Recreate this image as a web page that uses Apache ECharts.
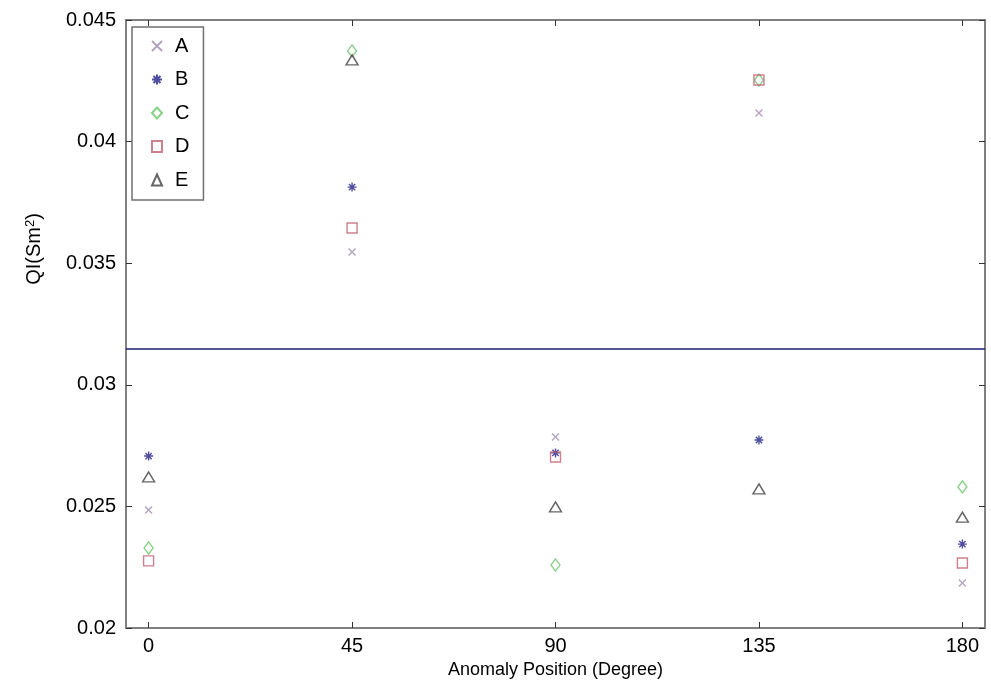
<!DOCTYPE html>
<html>
<head>
  <meta charset="utf-8">
  <title>QI vs Anomaly Position</title>
  <script src="https://cdn.jsdelivr.net/npm/echarts@6/dist/echarts.min.js"></script>
</head>
<body style="margin:0">
  <div id="main" style="width:991px;height:695px;"></div>
  <script type="text/javascript">
    // angles (degree)
    var positions = [0, 45, 90, 135, 180];
    var seriesNames = ['A', 'B', 'C', 'D', 'E'];
    var valuesA = [0.02485, 0.03546, 0.02785, 0.04118, 0.02185];
    var valuesB = [0.02707, 0.03813, 0.02720, 0.02773, 0.02345];
    var valuesC = [0.02329, 0.04373, 0.02259, 0.04253, 0.02580];
    var valuesD = [0.02276, 0.03645, 0.02703, 0.04253, 0.02267];
    var valuesE = [0.02621, 0.04336, 0.02498, 0.02572, 0.02456];
    var threshold = 0.0315;
    var yTicks = [0.02, 0.025, 0.03, 0.035, 0.04, 0.045];

    var myChart = echarts.init(document.getElementById('main'));

    function pts(vals) {
      return positions.map(function (p, i) { return [p, vals[i]]; });
    }

    var styles = [
      { symbol: 'path://M0,0L10,10M10,0L0,10', size: 7, color: '#a08cb0', fill: 'rgba(0,0,0,0)' },
      { symbol: 'path://M5,0L5,10M0,5L10,5M1.5,1.5L8.5,8.5M8.5,1.5L1.5,8.5', size: 9, color: '#22228a', fill: 'rgba(0,0,0,0)' },
      { symbol: 'diamond', size: [9, 12], color: '#6cc46c', fill: 'rgba(0,0,0,0)' },
      { symbol: 'rect', size: 10, color: '#c06070', fill: 'rgba(0,0,0,0)' },
      { symbol: 'triangle', size: [12, 10], color: '#404040', fill: 'rgba(0,0,0,0)' }
    ];
    var allValues = [valuesA, valuesB, valuesC, valuesD, valuesE];

    var series = seriesNames.map(function (n, i) {
      var s = styles[i];
      return {
        name: n,
        type: 'scatter',
        symbol: s.symbol,
        symbolSize: s.size,
        itemStyle: { color: s.fill, borderColor: s.color, borderWidth: 1.4 },
        data: pts(allValues[i])
      };
    });
    // horizontal reference line
    series.push({
      name: 'limit',
      type: 'line',
      data: [],
      markLine: {
        silent: true,
        symbol: 'none',
        precision: 5,
        label: { show: false },
        lineStyle: { color: '#1c1c78', width: 1.5, type: 'solid' },
        data: [{ yAxis: threshold }]
      }
    });

    var option = {
      animation: false,
      grid: { left: 126, top: 20, right: 6, bottom: 67 },
      legend: {
        data: seriesNames,
        orient: 'vertical',
        left: 132,
        top: 27,
        padding: [9, 14, 10, 19],
        itemGap: 13.5,
        itemWidth: 10,
        itemHeight: 11,
        borderColor: '#707070',
        borderWidth: 1.5,
        backgroundColor: '#fff',
        textStyle: { color: '#000', fontSize: 20, lineHeight: 20, padding: [0, 0, 0, 8], fontFamily: 'Liberation Sans, Arial' }
      },
      xAxis: [{
        type: 'value',
        min: -5,
        max: 185,
        name: 'Anomaly Position (Degree)',
        nameLocation: 'middle',
        nameGap: 30,
        nameTextStyle: { color: '#000', fontSize: 18, fontFamily: 'Liberation Sans, Arial' },
        axisLine: { onZero: false, lineStyle: { color: '#808080', width: 2 } },
        axisTick: { inside: true, length: 6, customValues: positions, lineStyle: { color: '#333' } },
        axisLabel: { fontSize: 20, color: '#000', fontFamily: 'Liberation Sans, Arial', customValues: positions },
        splitLine: { show: false }
      }, {
        type: 'value',
        position: 'top',
        min: -5,
        max: 185,
        axisLine: { onZero: false, lineStyle: { color: '#808080', width: 2 } },
        axisTick: { inside: true, length: 6, customValues: positions, lineStyle: { color: '#333' } },
        axisLabel: { show: false },
        splitLine: { show: false }
      }],
      yAxis: [{
        type: 'value',
        min: 0.02,
        max: 0.045,
        interval: 0.005,
        name: '{a|QI(Sm}{s|2}{a|)}',
        nameLocation: 'middle',
        nameGap: 82,
        nameTextStyle: {
          padding: [0, 0, 0, 150],
          rich: {
            a: { fontSize: 20, color: '#000', fontFamily: 'Liberation Sans, Arial' },
            s: { fontSize: 13, color: '#000', verticalAlign: 'top', fontFamily: 'Liberation Sans, Arial' }
          }
        },
        axisLine: { onZero: false, lineStyle: { color: '#808080', width: 2 } },
        axisTick: { inside: true, length: 6, lineStyle: { color: '#333' } },
        axisLabel: {
          color: '#000', fontSize: 20, margin: 10, fontFamily: 'Liberation Sans, Arial',
          customValues: yTicks,
          formatter: function (v) { return String(+v.toFixed(3)); }
        },
        splitLine: { show: false }
      }, {
        type: 'value',
        position: 'right',
        min: 0.02,
        max: 0.045,
        interval: 0.005,
        axisLine: { onZero: false, lineStyle: { color: '#808080', width: 2 } },
        axisTick: { inside: true, length: 6, lineStyle: { color: '#333' } },
        axisLabel: { show: false },
        splitLine: { show: false }
      }],
      series: series
    };

    myChart.setOption(option);
  </script>
</body>
</html>
